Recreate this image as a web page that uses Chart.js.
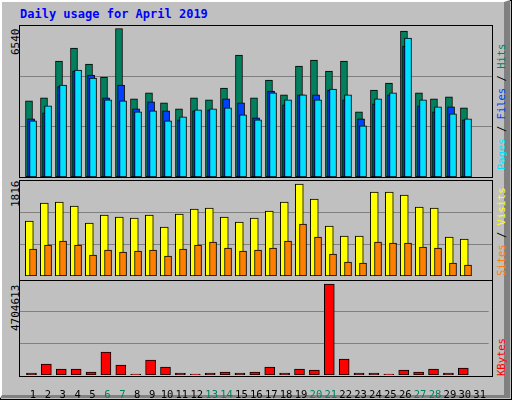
<!DOCTYPE html>
<html><head><meta charset="utf-8">
<script src="https://cdn.jsdelivr.net/npm/chart.js@4"></script>
<style>
body{margin:0;background:#C0C0C0;}
#outer{position:absolute;left:0;top:0;width:512px;height:400px;box-sizing:border-box;border:1px solid #000;}
#inner{position:absolute;left:0;top:0;width:510px;height:398px;box-sizing:border-box;border-top:2px solid #fff;border-left:2px solid #fff;border-right:6px solid #808080;border-bottom:3px solid #808080;}
.t{position:absolute;font-family:"DejaVu Sans Mono",monospace;font-size:11px;white-space:nowrap;}
.rot{transform:rotate(-90deg);transform-origin:0 0;}
.frame{position:absolute;border:1px solid #000;box-sizing:border-box;}
canvas{position:absolute;}
</style></head><body>
<div id="outer"></div><div id="inner"></div>
<div class="t" style="left:20px;top:7px;color:#0000FF;font-weight:bold;font-size:12px;">Daily usage for April 2019</div>
<div class="frame" style="left:19px;top:25px;width:474px;height:153px;"></div>
<div class="frame" style="left:19px;top:180px;width:474px;height:101px;"></div>
<div class="frame" style="left:19px;top:280px;width:474px;height:97px;"></div>
<div class="t rot" style="left:9px;top:55px;">6540</div>
<div class="t rot" style="left:9px;top:207px;">1816</div>
<div class="t rot" style="left:9px;top:331px;">4704613</div>
<div class="t rot" style="left:495px;top:170px;font-size:10.5px;"><span style="color:#00E0FF">Pages</span> / <span style="color:#0040FF">Files</span> / <span style="color:#00805C">Hits</span></div>
<div class="t rot" style="left:495px;top:276px;font-size:10.5px;"><span style="color:#FF8000">Sites</span> / <span style="color:#FFFF00">Visits</span></div>
<div class="t rot" style="left:495px;top:376px;color:#FF0000;font-size:10.5px;">KBytes</div>
<canvas id="c1" style="left:20px;top:26px;width:472px;height:151px"></canvas>
<canvas id="c2" style="left:20px;top:181px;width:472px;height:95px"></canvas>
<canvas id="c3" style="left:20px;top:280px;width:472px;height:120px"></canvas>
<script>
const days=[1,2,3,4,5,6,7,8,9,10,11,12,13,14,15,16,17,18,19,20,21,22,23,24,25,26,27,28,29,30,31];
const weekend=[6,7,13,14,20,21,27,28];
const hits=[3350,3482,5106,5677,4975,4404,6540,3438,3702,3263,3000,3482,3394,3921,5369,3482,4272,3614,4887,5150,4667,5106,2868,3833,4140,6423,3702,3438,3526,3043,0];
const files=[2560,2824,3979,4667,4491,3482,4052,3000,3306,2911,2516,2911,2955,3438,3263,2604,3789,3175,3614,3614,3833,3394,2560,3219,3614,5764,3131,2868,3087,2516,0];
const pages=[2472,3131,4052,4711,4360,3394,3350,2868,2911,2472,2648,2955,3000,3043,2736,2516,3702,3394,3614,3394,3877,3614,2253,3438,3702,6115,3394,3087,2780,2560,0];
const visits=[1086,1441,1461,1382,1046,1204,1165,1145,1204,967,1224,1323,1342,1165,1066,1145,1283,1461,1816,1520,987,790,790,1658,1658,1599,1362,1342,770,730,0];
const sites=[533,612,691,612,415,513,474,494,513,395,533,612,671,553,494,513,553,691,1026,770,434,276,257,671,651,651,572,553,257,217,0];
const kbytes=[103000,569000,310000,310000,155000,1189000,517000,52000,775000,414000,103000,52000,103000,155000,103000,155000,414000,103000,310000,258000,4704613,827000,103000,103000,52000,258000,155000,310000,103000,362000,0];
const yTop={hits:6650,visits:1875,kbytes:4911000};

function pts(arr,shift){return days.map((d,i)=>({x:d+shift,y:arr[i]}));}
function ds(arr,shift,color,w){return {data:pts(arr,shift),backgroundColor:color,borderColor:'#000',borderWidth:1,barThickness:w,borderSkipped:false};}
function yScale(max){return {min:0,max:max,display:true,border:{display:false},
  ticks:{display:false},grid:{color:'#808080',drawTicks:false,lineWidth:1},
  afterBuildTicks:s=>{s.ticks=[{value:max/3},{value:2*max/3}];},afterFit:s=>{s.width=0;}};}
function xScale(show){const o={type:'linear',min:0.13,max:31.6,offset:false,display:show,border:{display:false},
  grid:{display:false,offset:false},afterBuildTicks:s=>{s.ticks=days.map(v=>({value:v}));},
  ticks:{autoSkip:false,maxRotation:0,padding:6,font:{family:'DejaVu Sans Mono',size:10.5},
    color:c=>weekend.includes(c.tick.value)?'#00805C':'#000'}};
  if(show)o.afterFit=s=>{s.height=25;};return o;}
const base={responsive:false,animation:false,devicePixelRatio:1,layout:{padding:0},
  plugins:{legend:{display:false},tooltip:{enabled:false}}};
function mk(id,datasets,max,showX){
  const el=document.getElementById(id);el.width=472;el.height=parseInt(el.style.height);
  new Chart(el,{type:'bar',data:{datasets:datasets},options:Object.assign({},base,{
    datasets:{bar:{grouped:false}},scales:{x:xScale(showX),y:yScale(max)}})});
}
mk('c1',[ds(pages,0,'#00E0FF',7),ds(files,-0.13,'#0040FF',7),ds(hits,-0.27,'#00805C',7)],yTop.hits,false);
mk('c2',[ds(sites,0,'#FF8000',7),ds(visits,-0.25,'#FFFF00',8)],yTop.visits,false);
mk('c3',[ds(kbytes,-0.1,'#FF0000',10)],yTop.kbytes,true);
</script></body></html>
